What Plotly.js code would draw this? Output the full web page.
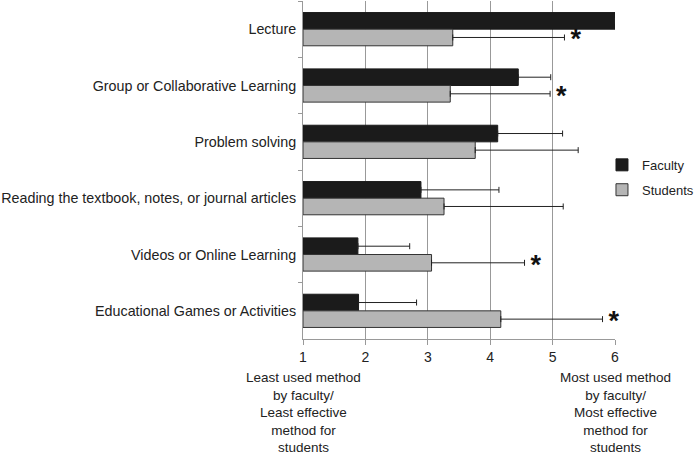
<!DOCTYPE html>
<html>
<head>
<meta charset="utf-8">
<script src="https://cdn.plot.ly/plotly-3.0.1.min.js"></script>
<style>
  html, body { margin: 0; padding: 0; background: #fff; }
  #chart { width: 694px; height: 456px; }
</style>
</head>
<body>
<div id="chart"></div>
<script>
const methods = [
    'Lecture',
    'Group or Collaborative Learning',
    'Problem solving',
    'Reading the textbook, notes, or journal articles',
    'Videos or Online Learning',
    'Educational Games or Activities'
];
const facultyMean = [6.0, 4.45, 4.12, 2.89, 1.88, 1.89];
const facultyErr = [0, 0.52, 1.04, 1.25, 0.83, 0.93];
const studentMean = [3.40, 3.36, 3.76, 3.26, 3.06, 4.17];
const studentErr = [1.79, 1.60, 1.65, 1.91, 1.49, 1.63];
const significant = [true, true, false, false, true, true];
const leftNote = 'Least used method<br>by faculty/<br>Least effective<br>method for<br>students';
const rightNote = 'Most used method<br>by faculty/<br>Most effective<br>method for<br>students';

const scaleMin = 1, scaleMax = 6;
const font = 'Liberation Sans, Arial, sans-serif';

const errorBars = (err) => ({
    type: 'data', symmetric: false,
    array: err, arrayminus: err.map(() => 0),
    color: '#222', thickness: 1, width: 3,
    visible: true
});

let
    faculty = {
        type: 'bar',
        orientation: 'h',
        name: 'Faculty',
        legendgroup: 'faculty',
        y: methods,
        x: facultyMean.map(v => v - scaleMin),
        base: scaleMin,
        marker: { color: '#1b1b1b', line: { color: '#1b1b1b', width: 1 } },
        error_x: errorBars(facultyErr),
        hoverinfo: 'skip'
    },
    students = {
        type: 'bar',
        orientation: 'h',
        name: 'Students',
        legendgroup: 'students',
        y: methods,
        x: studentMean.map(v => v - scaleMin),
        base: scaleMin,
        marker: { color: '#b5b5b5', line: { color: '#333', width: 1 } },
        error_x: errorBars(studentErr),
        hoverinfo: 'skip'
    },
    // stars sit on a numeric overlay axis, a bit below the student bar centre
    stars = {
        type: 'scatter',
        mode: 'text',
        showlegend: false,
        x: methods.map((_, i) => studentMean[i] + studentErr[i] + 0.18),
        y: methods.map((_, i) => significant[i] ? i + 0.22 : null),
        text: methods.map((_, i) => significant[i] ? '*' : ''),
        textposition: 'middle center',
        textfont: { family: font, size: 27, color: '#111', weight: 'bold' },
        yaxis: 'y2',
        hoverinfo: 'skip',
        cliponaxis: false
    };

const layout = {
    width: 694,
    height: 456,
    margin: { l: 303, r: 79, t: 1, b: 117, autoexpand: false },
    paper_bgcolor: '#fff',
    plot_bgcolor: '#fff',
    font: { family: font, size: 14, color: '#222' },
    barmode: 'group',
    bargap: 0.41,
    bargroupgap: 0,
    xaxis: {
        range: [scaleMin, scaleMax],
        tickvals: [1, 2, 3, 4, 5, 6],
        showgrid: true,
        gridcolor: '#999',
        gridwidth: 1,
        zeroline: false,
        showline: true,
        linecolor: '#999',
        ticks: 'outside',
        ticklen: 5,
        tickcolor: '#999',
        tickfont: { size: 14 }
    },
    yaxis: {
        type: 'category',
        categoryorder: 'array',
        categoryarray: methods,
        autorange: 'reversed',
        showline: true,
        linecolor: '#999',
        ticks: 'outside',
        tickson: 'boundaries',
        ticklen: 4,
        tickcolor: '#999',
        showgrid: false,
        ticklabelstandoff: 3,
        tickfont: { size: 14.3 }
    },
    yaxis2: {
        overlaying: 'y',
        type: 'linear',
        range: [5.5, -0.5],
        visible: false
    },
    legend: {
        xref: 'container', yref: 'container',
        x: 0.8674, y: 0.611,
        xanchor: 'left', yanchor: 'middle',
        traceorder: 'grouped',
        bgcolor: 'rgba(0,0,0,0)',
        font: { size: 13 },
        itemwidth: 30,
        tracegroupgap: 5,
        borderwidth: 0
    },
    annotations: [
        { x: scaleMin, y: -0.085, xref: 'x', yref: 'paper', text: leftNote,
          showarrow: false, xanchor: 'center', yanchor: 'top', align: 'center',
          font: { size: 13.5 } },
        { x: scaleMax, y: -0.085, xref: 'x', yref: 'paper', text: rightNote,
          showarrow: false, xanchor: 'center', yanchor: 'top', align: 'center',
          font: { size: 13.5 } }
    ]
};

Plotly.newPlot('chart', [faculty, students, stars], layout, { staticPlot: true });
</script>
</body>
</html>
